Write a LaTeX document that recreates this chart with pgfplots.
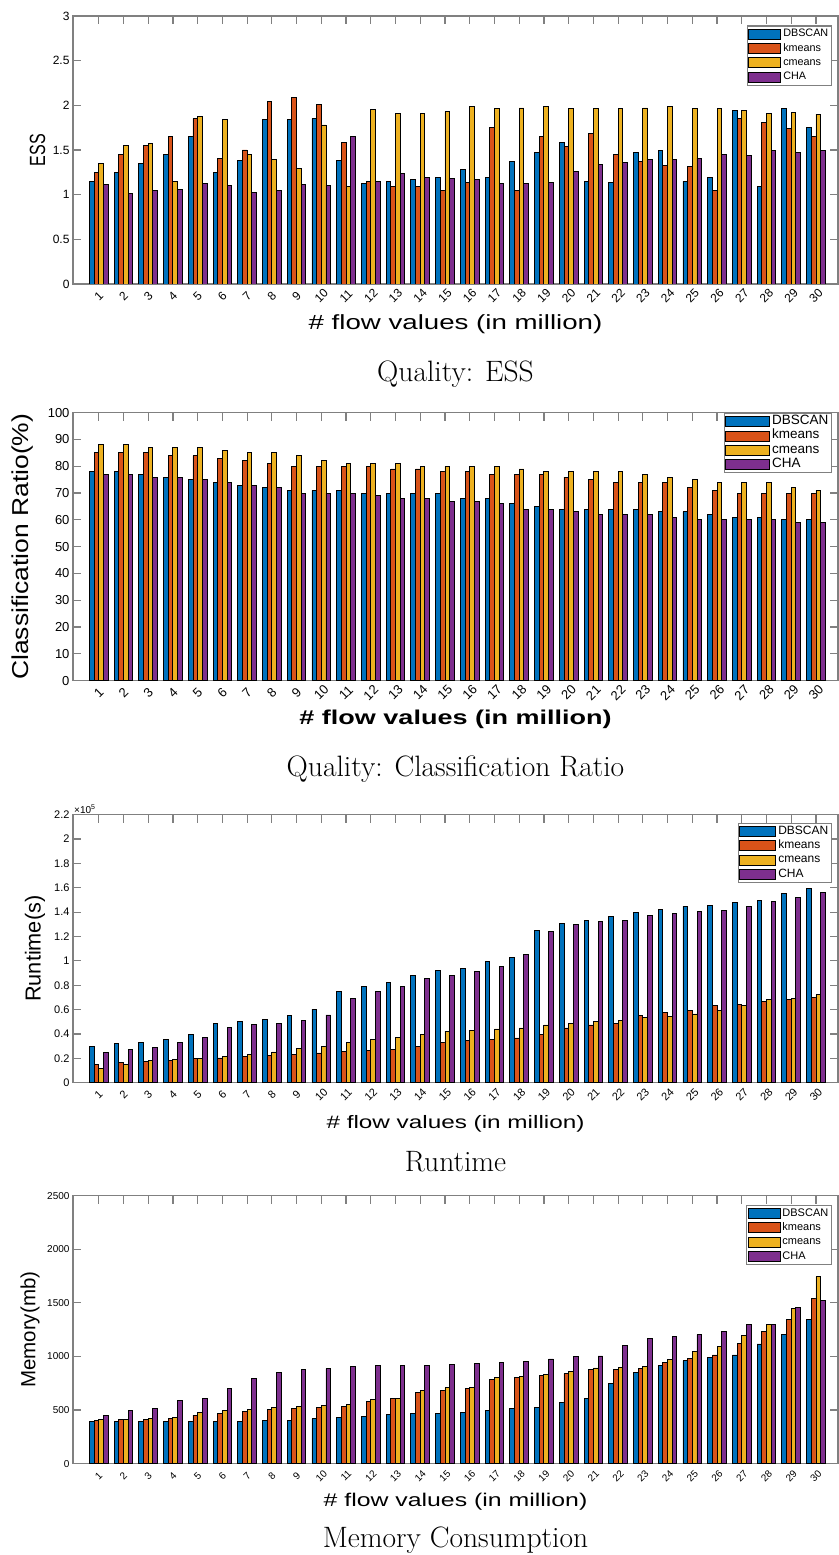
\documentclass[border=0pt]{standalone}
\usepackage{fontspec}
\usepackage{pgfplots}
\usepackage{pgfplotstable}
\pgfplotsset{compat=1.18}
\newfontfamily\hv{Liberation Sans}
\newfontfamily\hvw{Liberation Sans}[FakeStretch=1.35]
\newfontfamily\hvc{Liberation Sans}[FakeStretch=0.73]
\newfontfamily\hvs{Liberation Sans}[FakeStretch=1.15]
\definecolor{c1}{rgb}{0,0.447,0.741}
\definecolor{c2}{rgb}{0.85,0.325,0.098}
\definecolor{c3}{rgb}{0.929,0.694,0.125}
\definecolor{c4}{rgb}{0.494,0.184,0.556}

\pgfplotstableread{
x a b c d
1 1.15 1.25 1.35 1.11
2 1.25 1.45 1.55 1.01
3 1.35 1.55 1.57 1.05
4 1.45 1.65 1.15 1.06
5 1.65 1.85 1.87 1.12
6 1.25 1.40 1.84 1.10
7 1.38 1.50 1.45 1.02
8 1.84 2.04 1.39 1.05
9 1.84 2.09 1.29 1.11
10 1.85 2.01 1.78 1.10
11 1.38 1.58 1.09 1.65
12 1.12 1.15 1.95 1.15
13 1.15 1.09 1.91 1.24
14 1.17 1.09 1.91 1.19
15 1.19 1.05 1.93 1.18
16 1.28 1.14 1.99 1.17
17 1.19 1.75 1.96 1.12
18 1.37 1.05 1.97 1.12
19 1.47 1.65 1.99 1.14
20 1.58 1.54 1.96 1.26
21 1.15 1.69 1.96 1.34
22 1.14 1.45 1.96 1.36
23 1.47 1.37 1.97 1.39
24 1.49 1.33 1.99 1.39
25 1.15 1.32 1.96 1.41
26 1.19 1.05 1.96 1.45
27 1.94 1.85 1.94 1.44
28 1.09 1.81 1.91 1.49
29 1.96 1.74 1.92 1.47
30 1.75 1.65 1.90 1.49
}\ess

\pgfplotstableread{
x a b c d
1 78 85 88 77
2 78 85 88 77
3 77 85 87 76
4 76 84 87 76
5 75 84 87 75
6 74 83 86 74
7 73 82 85 73
8 72 81 85 72
9 71 80 84 70
10 71 80 82 70
11 71 80 81 70
12 70 80 81 69
13 70 79 81 68
14 70 79 80 68
15 70 78 80 67
16 68 78 80 67
17 68 77 80 66
18 66 77 79 64
19 65 77 78 64
20 64 76 78 63
21 64 75 78 62
22 64 74 78 62
23 64 74 77 62
24 63 74 76 61
25 63 72 75 60
26 62 71 74 60
27 61 70 74 60
28 61 70 74 60
29 60 70 72 59
30 60 70 71 59
}\cls

\pgfplotstableread{
x a b c d
1 0.301 0.153 0.115 0.249
2 0.323 0.164 0.151 0.271
3 0.334 0.178 0.184 0.290
4 0.351 0.186 0.192 0.332
5 0.395 0.195 0.200 0.370
6 0.485 0.203 0.219 0.452
7 0.499 0.214 0.233 0.479
8 0.521 0.222 0.252 0.485
9 0.553 0.233 0.282 0.512
10 0.603 0.244 0.299 0.556
11 0.745 0.255 0.329 0.693
12 0.792 0.263 0.351 0.751
13 0.822 0.274 0.373 0.792
14 0.882 0.299 0.395 0.852
15 0.922 0.329 0.423 0.882
16 0.934 0.345 0.430 0.912
17 0.995 0.353 0.441 0.956
18 1.030 0.367 0.449 1.055
19 1.252 0.395 0.474 1.244
20 1.304 0.449 0.485 1.296
21 1.334 0.474 0.504 1.323
22 1.367 0.485 0.512 1.334
23 1.397 0.551 0.532 1.370
24 1.422 0.573 0.545 1.386
25 1.447 0.595 0.564 1.403
26 1.458 0.633 0.595 1.414
27 1.479 0.644 0.633 1.447
28 1.496 0.668 0.685 1.488
29 1.553 0.685 0.693 1.523
30 1.597 0.701 0.721 1.564
}\run

\pgfplotstableread{
x a b c d
1 391 406 413 453
2 397 409 416 499
3 397 413 419 518
4 394 422 431 586
5 397 453 478 608
6 397 471 493 701
7 397 487 509 794
8 400 506 524 847
9 406 515 533 875
10 419 527 543 887
11 428 537 555 903
12 440 577 596 912
13 459 605 611 912
14 465 664 685 915
15 468 685 710 924
16 478 704 710 937
17 493 785 803 946
18 515 806 813 955
19 524 822 831 977
20 571 841 859 999
21 608 875 893 1005
22 748 875 900 1104
23 847 884 909 1172
24 912 943 971 1191
25 962 983 1045 1203
26 989 1014 1095 1231
27 1014 1123 1194 1297
28 1117 1234 1297 1303
29 1207 1343 1448 1455
30 1343 1542 1743 1520
}\mem

\pgfplotsset{
  mybars/.style={
    ybar=0pt, bar width=4.67pt,
    width=765pt, height=268pt, scale only axis,
    anchor=south west,
    xmin=-0.04, xmax=30.89, ymin=0,
    xtick={1,...,30},
    tick align=inside, major tick length=8pt,
    axis line style={draw=black!50,line width=1.5pt},
    tick style={draw=black!50,line width=1.2pt},
    scaled y ticks=false,
    /pgf/number format/assume math mode=true,
    /pgf/number format/1000 sep={},
    xticklabel style={yshift=-12pt,rotate=45,anchor=center,inner sep=0.5pt},
    legend cell align=left,
    legend image code/.code={\draw[##1] (0pt,-5pt) rectangle (32pt,5pt);},
    legend style={draw=black!50,line width=1.2pt,inner sep=1pt,
      nodes={inner ysep=1.4pt,text height=8.5pt,text depth=3pt}},
    title style={anchor=center,font=\rmfamily\fontsize{29.5}{33}\selectfont},
    xlabel style={anchor=center},
    ylabel style={anchor=center},
  },
  b1/.style={fill=c1,draw=black,line width=0.9pt},
  b2/.style={fill=c2,draw=black,line width=0.9pt},
  b3/.style={fill=c3,draw=black,line width=0.9pt},
  b4/.style={fill=c4,draw=black,line width=0.9pt},
}

\begin{document}
\begin{tikzpicture}
\useasboundingbox (0,0) rectangle (838pt,1555pt);

% Panel 1: ESS
\begin{axis}[mybars, at={(73pt,1271pt)},
  ymax=3, ytick={0,0.5,...,3},
  tick label style={font=\hv\fontsize{12}{14}\selectfont},
  xlabel={\# flow values (in million)},
  xlabel style={at={(axis description cs:0.5,-0.149)},font=\hvw\fontsize{20.5}{24}\selectfont},
  ylabel={ESS},
  ylabel style={at={(axis description cs:-0.0464,0.5)},font=\hvc\fontsize{22}{26}\selectfont},
  title={Quality: ESS},
  title style={at={(axis description cs:0.5,-0.358)}},
  legend style={at={(0.992,0.965)},anchor=north east,font=\hv\fontsize{10.8}{12}\selectfont},
]
\addplot[b1] table[x=x,y=a]{\ess};
\addplot[b2] table[x=x,y=b]{\ess};
\addplot[b3] table[x=x,y=c]{\ess};
\addplot[b4] table[x=x,y=d]{\ess};
\legend{DBSCAN,kmeans,cmeans,CHA}
\end{axis}

% Panel 2: Classification ratio
\begin{axis}[mybars, at={(73pt,874.3pt)},
  ymax=100, ytick={0,10,...,100},
  tick label style={font=\hv\fontsize{13}{15}\selectfont},
  xlabel={\# flow values (in million)},
  xlabel style={at={(axis description cs:0.5,-0.146)},font=\hvw\bfseries\fontsize{20}{24}\selectfont},
  ylabel={Classification Ratio(\%)},
  ylabel style={at={(axis description cs:-0.0654,0.5)},font=\hvs\fontsize{23}{27}\selectfont},
  title={Quality: Classification Ratio},
  title style={at={(axis description cs:0.5,-0.354)}},
  legend style={at={(0.992,0.999)},anchor=north east,font=\hv\fontsize{13.5}{15}\selectfont},
  legend image code/.code={\draw[#1] (0pt,-5pt) rectangle (44pt,5pt);},
]
\addplot[b1] table[x=x,y=a]{\cls};
\addplot[b2] table[x=x,y=b]{\cls};
\addplot[b3] table[x=x,y=c]{\cls};
\addplot[b4] table[x=x,y=d]{\cls};
\legend{DBSCAN,kmeans,cmeans,CHA}
\end{axis}

% Panel 3: Runtime
\begin{axis}[mybars, at={(73pt,472.3pt)},
  ymax=2.2, ytick={0,0.2,...,2.2},
  tick label style={font=\hv\fontsize{11}{13}\selectfont},
  xlabel={\# flow values (in million)},
  xlabel style={at={(axis description cs:0.5,-0.153)},font=\hvw\fontsize{18}{22}\selectfont},
  ylabel={Runtime(s)},
  ylabel style={at={(axis description cs:-0.0497,0.5)},font=\hv\fontsize{21.7}{25}\selectfont},
  title={Runtime},
  title style={at={(axis description cs:0.5,-0.3175)}},
  legend style={at={(0.992,0.970)},anchor=north east,font=\hv\fontsize{12}{14}\selectfont},
  legend image code/.code={\draw[#1] (0pt,-5pt) rectangle (36pt,5pt);},
  extra description/.code={\node[anchor=south west,inner sep=1pt,font=\hv\fontsize{10}{12}\selectfont] at (0,1) {×10\textsuperscript{5}};},
]
\addplot[b1] table[x=x,y=a]{\run};
\addplot[b2] table[x=x,y=b]{\run};
\addplot[b3] table[x=x,y=c]{\run};
\addplot[b4] table[x=x,y=d]{\run};
\legend{DBSCAN,kmeans,cmeans,CHA}
\end{axis}

% Panel 4: Memory
\begin{axis}[mybars, at={(73pt,91.3pt)},
  ymax=2500, ytick={0,500,...,2500},
  tick label style={font=\hv\fontsize{10}{12}\selectfont},
  xlabel={\# flow values (in million)},
  xlabel style={at={(axis description cs:0.5,-0.143)},font=\hvw\fontsize{18.4}{22}\selectfont},
  ylabel={Memory(mb)},
  ylabel style={at={(axis description cs:-0.0562,0.5)},font=\hv\fontsize{20.5}{24}\selectfont},
  title={Memory Consumption},
  title style={at={(axis description cs:0.5,-0.306)}},
  legend style={at={(0.992,0.9665)},anchor=north east,font=\hv\fontsize{11}{13}\selectfont},
]
\addplot[b1] table[x=x,y=a]{\mem};
\addplot[b2] table[x=x,y=b]{\mem};
\addplot[b3] table[x=x,y=c]{\mem};
\addplot[b4] table[x=x,y=d]{\mem};
\legend{DBSCAN,kmeans,cmeans,CHA}
\end{axis}
\end{tikzpicture}
\end{document}
